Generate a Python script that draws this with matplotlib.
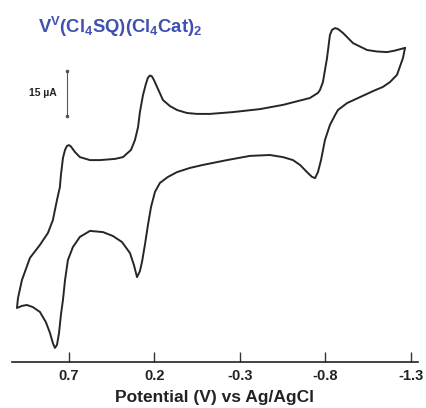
import matplotlib
matplotlib.use("Agg")
import matplotlib.pyplot as plt
import numpy as np

# ---- data (potential in V vs Ag/AgCl, current in µA, arbitrary offset)
potential_V = [
    -1.265, -1.206, -1.160, -1.101, -1.043, -0.961, -0.902, -0.873, -0.856, -0.838,
    -0.826, -0.809, -0.785, -0.768, -0.756, -0.709, -0.551, -0.417, -0.259, -0.125,
    -0.049, 0.010, 0.068, 0.109, 0.150, 0.185, 0.203, 0.215, 0.226, 0.238,
    0.250, 0.267, 0.285, 0.296, 0.314, 0.337, 0.384, 0.431, 0.519, 0.577,
    0.636, 0.665, 0.688, 0.700, 0.712, 0.723, 0.735, 0.747, 0.753, 0.770,
    0.794, 0.823, 0.870, 0.928, 0.975, 0.998, 1.004,
    0.975, 0.946, 0.911, 0.870, 0.835, 0.811, 0.794, 0.782, 0.770, 0.758,
    0.747, 0.735, 0.723, 0.706, 0.677, 0.636, 0.577, 0.501, 0.443, 0.390,
    0.343, 0.320, 0.302, 0.285, 0.273, 0.256, 0.238, 0.220, 0.197, 0.168,
    0.121, 0.068, -0.008, -0.084, -0.224, -0.358, -0.475, -0.551, -0.610, -0.651,
    -0.692, -0.721, -0.739, -0.756, -0.774, -0.797, -0.826, -0.856, -0.873, -0.926,
    -1.002, -1.078, -1.136, -1.177, -1.218, -1.253, -1.265,
]
current_uA = [
    50.7, 49.8, 49.3, 49.5, 50.0, 52.3, 55.7, 57.0, 57.3, 56.7,
    55.0, 47.3, 39.3, 36.7, 35.7, 34.0, 31.7, 30.3, 29.3, 28.7,
    28.7, 29.0, 30.0, 31.3, 33.3, 37.7, 40.0, 41.2, 41.5, 40.8,
    38.7, 35.0, 29.3, 24.3, 20.0, 16.7, 14.3, 13.7, 13.3, 13.3,
    14.3, 16.0, 17.8, 18.3, 18.0, 16.7, 14.0, 8.3, 4.3, 0.0,
    -6.7, -11.0, -15.0, -19.3, -26.7, -32.7, -36.0,
    -35.3, -35.0, -35.7, -37.3, -40.7, -44.3, -47.7, -49.3, -48.3, -44.3,
    -38.3, -33.3, -26.7, -20.0, -15.7, -12.3, -10.3, -10.7, -12.0, -14.0,
    -17.7, -21.7, -25.7, -23.7, -20.7, -15.0, -8.3, -2.3, 2.7, 5.7,
    7.7, 9.3, 10.7, 11.7, 13.3, 14.7, 15.0, 14.3, 13.3, 11.7,
    9.3, 7.7, 7.3, 9.3, 13.3, 20.0, 25.0, 28.3, 30.0, 32.3,
    34.3, 36.3, 37.7, 39.3, 41.7, 47.3, 50.7,
]
tick_values = [0.7, 0.2, -0.3, -0.8, -1.3]
tick_labels = ["0.7", "0.2", "-0.3", "-0.8", "-1.3"]
scale_bar_uA = 15
scale_bar_x = 0.712
scale_bar_top = 43.0

title_text = r"V$^{\mathbf{V}}$(Cl$_{\mathbf{4}}$SQ)(Cl$_{\mathbf{4}}$Cat)$_{\mathbf{2}}$"
xlabel_text = "Potential (V) vs Ag/AgCl"

plt.rcParams["font.family"] = ["Liberation Sans", "DejaVu Sans"]
plt.rcParams["mathtext.fontset"] = "custom"
plt.rcParams["mathtext.rm"] = "Liberation Sans:bold"
plt.rcParams["mathtext.bf"] = "Liberation Sans:bold"
plt.rcParams["mathtext.it"] = "Liberation Sans:bold"

W, H = 427, 408
fig = plt.figure(figsize=(W / 100, H / 100), dpi=100)
ax = fig.add_axes([12 / W, (H - 362) / H, (418 - 12) / W, 362 / H])

ax.plot(potential_V, current_uA, color="#262626", lw=1.4,
        solid_joinstyle="round", solid_capstyle="round")

ax.set_xlim(1.033, -1.341)
ax.set_ylim(200 / 3 - 362 / 3, 200 / 3)

for s in ["left", "right", "top"]:
    ax.spines[s].set_visible(False)
ax.spines["bottom"].set_linewidth(1.2)
ax.spines["bottom"].set_color("#222222")
ax.set_yticks([])
ax.set_xticks(tick_values)
ax.set_xticklabels(tick_labels, fontsize=10.5, fontweight="bold", color="#222222")
ax.tick_params(axis="x", direction="in", length=7.5, width=1.0, color="#333333", pad=5)
ax.set_xlabel(xlabel_text, fontsize=12.5, fontweight="bold", color="#222222", labelpad=5)
ax.patch.set_alpha(0)

# scale bar
ax.plot([scale_bar_x, scale_bar_x], [scale_bar_top, scale_bar_top - scale_bar_uA],
        color="#555555", lw=0.8, marker="o", markersize=1.6)
ax.annotate("15 µA", xy=(scale_bar_x, scale_bar_top - scale_bar_uA / 2),
            xytext=(-7, 0), textcoords="offset points", ha="right", va="center",
            fontsize=7.5, fontweight="bold", color="#222222")

fig.text(38 / W, 1 - 27 / H, title_text, fontsize=13.3, fontweight="bold",
         color="#4050b0", ha="left", va="center")

fig.savefig("out.png", dpi=100)
